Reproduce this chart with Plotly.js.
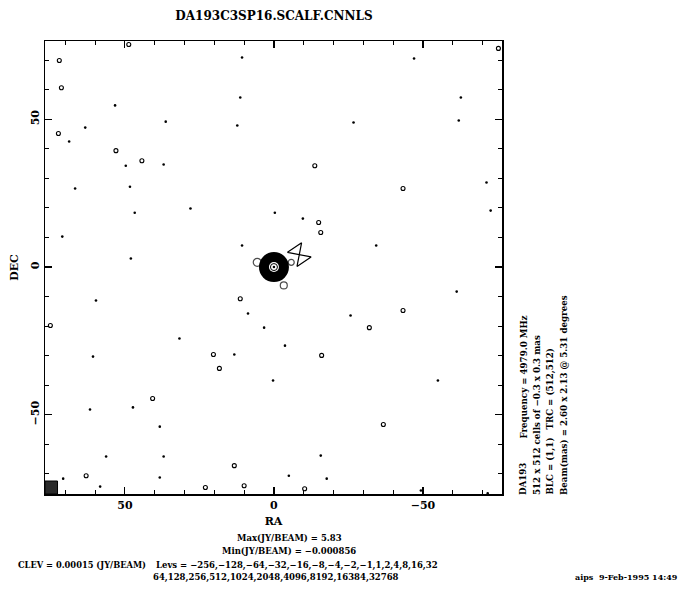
<!DOCTYPE html>
<html>
<head>
<meta charset="utf-8">
<script src="https://cdn.plot.ly/plotly-3.0.1.min.js"></script>
<style>
  html, body { margin: 0; padding: 0; background: #fff; }
  #plot { width: 685px; height: 591px; }
</style>
</head>
<body>
<div id="plot"></div>
<script>
// Map name and image parameters
const mapName = 'DA193C3SP16.SCALF.CNNLS';
const source = 'DA193';
const freqMHz = '4979.0';
const peakJy = '5.83';
const minJy = '−0.000856';
const clev = '0.00015';
const levs = [-256, -128, -64, -32, -16, -8, -4, -2, -1, 1, 2, 4, 8, 16, 32,
              64, 128, 256, 512, 1024, 2048, 4096, 8192, 16384, 32768];
const beam = { major: '2.60', minor: '2.13', pa: '5.31' };
const stamp = 'aips  9-Feb-1995 14:49';

// Peak of the map (RA, DEC offsets in mas)
const peakRA = [0];
const peakDEC = [0];

// Lowest-level noise contours: tiny spots
const dotRA  = [10.7, -47, 11.3, 53.3, -62.7, -62, 68.7, 63.3, 36.3, 12.3, -26.7, 49.7, 37, 48.3, 66.7,
                28, -71.3, 46.7, -0.3, -9.7, -72.7, 71, 10.7, 48, -34.3, -61.3, 59.7, 8.7, 3.3, -25.7,
                31.7, -3.7, 13.3, 60.7, 0.3, -55, 47.3, 61.7, 38.3, 56.3, 37, -15.7, -5, -17.7, 58.3,
                38.3, 70.7, -49.3, -71.7];
const dotDEC = [70.9, 70.6, 57.4, 54.7, 57.4, 49.6, 42.5, 47.2, 49.2, 47.9, 48.9, 34.3, 34.7, 27.2, 26.6,
                19.8, 28.6, 18.4, 18.4, 16.4, 19.1, 10.3, 7.3, 2.9, 7.3, -8.3, -11.3, -15.7, -20.5, -16.4,
                -24.2, -26.6, -29.6, -30.3, -38.4, -38.4, -47.5, -48.2, -54, -64.1, -64.1, -63.8, -70.6, -71.6, -74.3,
                -71.2, -71.6, -75.6, -76.6];

// Lowest-level noise contours: small closed loops
const loopRA  = [48.7, -75.3, 72, 71.3, 72.3, 53, 44.3, -13.7, -43.3, -15, -15.7, 11.3, -43.3, 75,
                 -32, -16, 20.3, 18.3, 40.7, -36.7, 13.3, 63, 23, 10, -10.3];
const loopDEC = [75.3, 74, 69.9, 60.7, 45.2, 39.4, 36, 34.3, 26.6, 15.1, 11.7, -10.7, -14.7, -19.8,
                 -20.5, -29.9, -29.6, -34.3, -44.5, -53.3, -67.2, -70.6, -74.6, -74, -75];

// Faint structure around the core
const lobeRA  = [5.6, -5.8, -3.3];
const lobeDEC = [1.6, 1.6, -6.2];
const jetRA  = [-8.5];
const jetDEC = [4.2];

const W = 685, H = 591;
const M = { l: 45, r: 183, t: 41, b: 97 };
const PW = W - M.l - M.r, PH = H - M.t - M.b;
const px = x => (x - M.l) / PW;
const py = y => (H - M.b - y) / PH;

const serif = 'DejaVu Serif, Liberation Serif, serif';
const txt = (size) => ({ family: serif, size: size, color: '#000', weight: 'bold' });

const minorTicks = [];
for (let v = -70; v <= 70; v += 10) if (v % 50 !== 0) minorTicks.push(v);

const traces = [
  { type: 'scatter', mode: 'markers', x: dotRA, y: dotDEC, hoverinfo: 'skip',
    marker: { symbol: 'circle', size: 2.6, color: '#000' } },
  { type: 'scatter', mode: 'markers', x: loopRA, y: loopDEC, hoverinfo: 'skip',
    marker: { symbol: 'circle-open', size: 4, color: '#000', line: { width: 1.1, color: '#000' } } },
  { type: 'scatter', mode: 'markers', x: lobeRA, y: lobeDEC, hoverinfo: 'skip',
    marker: { symbol: 'circle-open', size: [8, 6, 7], color: '#000', line: { width: 1.2, color: '#000' } } },
  { type: 'scatter', mode: 'markers', x: jetRA, y: jetDEC, hoverinfo: 'skip',
    marker: { symbol: 'bowtie-open', size: 17, angle: 56, color: '#000', line: { width: 1.2, color: '#000' } } },
  // dense core contours merge into a solid disk
  { type: 'scatter', mode: 'markers', x: peakRA, y: peakDEC, hoverinfo: 'skip',
    marker: { symbol: 'circle', size: 30, color: '#000', line: { width: 0 } } },
  { type: 'scatter', mode: 'markers', x: peakRA, y: peakDEC, hoverinfo: 'skip',
    marker: { symbol: 'circle', size: 10, color: '#fff', line: { width: 0 } } },
  { type: 'scatter', mode: 'markers', x: peakRA, y: peakDEC, hoverinfo: 'skip',
    marker: { symbol: 'circle-open', size: 7, color: '#000', line: { width: 1, color: '#000' } } },
  { type: 'scatter', mode: 'markers', x: peakRA, y: peakDEC, hoverinfo: 'skip',
    marker: { symbol: 'circle', size: 2.5, color: '#000', line: { width: 0 } } }
];

const axisCommon = {
  showgrid: false, zeroline: false,
  showline: true, linecolor: '#000', linewidth: 1.5, mirror: 'ticks',
  ticks: 'inside', ticklen: 7, tickwidth: 1.2, tickcolor: '#000',
  tickvals: [50, 0, -50], ticktext: ['50', '0', '−50'],
  minor: { tickvals: minorTicks, ticks: 'inside', ticklen: 4, tickwidth: 1, tickcolor: '#000' },
  tickfont: txt(11)
};

const ann = [];
const addText = (text, x, y, size, opts) => ann.push(Object.assign({
  text: text, xref: 'paper', yref: 'paper', x: px(x), y: py(y),
  showarrow: false, font: txt(size), xanchor: 'center', yanchor: 'middle'
}, opts || {}));

addText('Max(JY/BEAM) = ' + peakJy, 289, 538, 8.5);
addText('Min(JY/BEAM) = ' + minJy, 289, 551, 8.5);
const fmt = a => a.map(v => String(v).replace('-', '−')).join(',');
addText('CLEV = ' + clev + ' (JY/BEAM)', 16, 565, 8.3, { xanchor: 'left' });
addText('Levs = ' + fmt(levs.slice(0, 15)), 154, 565, 8.5, { xanchor: 'left' });
addText(fmt(levs.slice(15)), 276, 577, 8.5);
addText(stamp, 680, 577, 8, { xanchor: 'right' });

// rotated header block to the right of the map
const rot = { textangle: -90, yanchor: 'bottom' };
addText(source, 523, 497, 8.7, rot);
addText('Frequency = ' + freqMHz + ' MHz', 523, 441, 8.7, rot);
addText('512 x 512 cells of −0.3 x 0.3 mas', 537, 497, 8.7, rot);
addText('BLC = (1,1)', 550, 497, 8.7, rot);
addText('TRC = (512,512)', 550, 432, 8.7, rot);
addText('Beam(mas) = ' + beam.major + ' x ' + beam.minor + ' @ ' + beam.pa + ' degrees', 564, 497, 8.7, rot);

const layout = {
  width: W, height: H,
  margin: M,
  paper_bgcolor: '#fff', plot_bgcolor: '#fff',
  showlegend: false,
  title: { text: mapName, font: txt(12), xref: 'paper', x: px(274), xanchor: 'center',
           yref: 'container', y: 1 - 16 / H, yanchor: 'middle' },
  xaxis: Object.assign({}, axisCommon, {
    range: [76.8, -76.5],
    title: { text: 'RA', font: txt(11), standoff: 6 }
  }),
  yaxis: Object.assign({}, axisCommon, {
    range: [-76.8, 76.5], tickangle: -90,
    title: { text: 'DEC', font: txt(11), standoff: 8 }
  }),
  shapes: [
    // restoring-beam box in the lower-left corner
    { type: 'rect', xref: 'x', yref: 'y', x0: 76.8, x1: 72.6, y0: -76.8, y1: -72.4,
      fillcolor: '#2a2a2a', line: { color: '#000', width: 1 } }
  ],
  annotations: ann
};

Plotly.newPlot('plot', traces, layout, { staticPlot: true, displayModeBar: false });
</script>
</body>
</html>
